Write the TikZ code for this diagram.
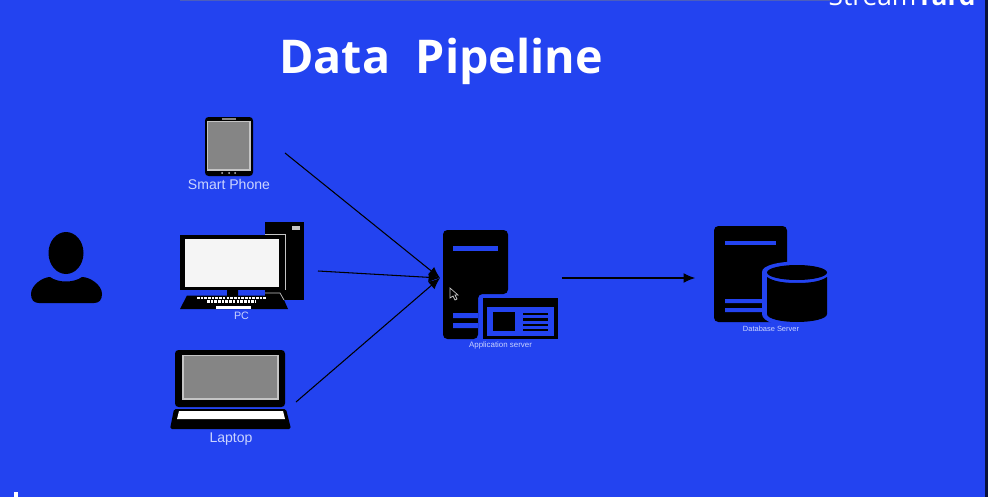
\documentclass[tikz,border=0pt]{standalone}
\usepackage{fontspec}
\usepackage{xcolor}
\usetikzlibrary{arrows.meta}
\setmainfont{Liberation Sans}
\newfontfamily\titlefont{Open Sans}
\definecolor{slideblue}{HTML}{2343F0}
\definecolor{screengrey}{HTML}{858585}
\definecolor{rimgrey}{HTML}{C4C4C4}
\definecolor{labelblue}{HTML}{CBD4FF}

\begin{document}
\begin{tikzpicture}[
  x=0.02cm, y=-0.02cm,
  hitBox/.style ={rectangle, inner sep=0pt, outer sep=0pt},
  link/.style   ={black, line width=0.6pt, -{Latex[length=6.5pt,width=5.6pt]}},
  iconText/.style={text=labelblue, inner sep=0pt},
  dark/.style   ={fill=black, draw=none},
  cut/.style    ={fill=slideblue, draw=none},
  screen/.style ={fill=screengrey, draw=rimgrey, line width=0.6pt},
]
\useasboundingbox (0,0) rectangle (988,497);
\fill[slideblue] (0,0) rectangle (988,497);
\fill[black!75!slideblue] (985,0) rectangle (988,497);
\fill[slideblue!55!gray] (180,0) rectangle (830,1);
\fill[white] (14,492) rectangle (18,497);

% watermark, cut by the top edge
\begin{scope}
\clip (0,0) rectangle (988,7);
\node[text=white, inner sep=0pt, anchor=base east, font=\titlefont\fontsize{15}{16}\selectfont] (brand) at (976,6) {Stream\textbf{Yard}};
\end{scope}

\node[text=white, inner sep=0pt, anchor=base, font=\titlefont\bfseries\fontsize{26.5}{30}\selectfont] (title) at (441,73) {Data\hspace{0.55em}Pipeline};

% user
\fill[black] (66,253) ellipse (17.5 and 21);
\fill[black] (31,294) .. controls (31,285) and (43,277) .. (50,277) .. controls (58,283) and (74,283) .. (82,277) .. controls (90,277) and (102,285) .. (102,294) .. controls (102,300) and (99,303) .. (94,303) -- (39,303) .. controls (34,303) and (31,300) .. (31,294) -- cycle;

% smart phone
\fill[dark, rounded corners=2pt] (205,117) rectangle (253,176);
\draw[screen] (207.5,121.5) rectangle (250,170);
\fill[screengrey] (222,118) rectangle (236,120);
\foreach \dx in {222,229,235} \fill[rimgrey] (\dx,173) circle (1);
\node[iconText, font=\fontsize{8}{9}\selectfont] (phoneText) at (229,184.5) {Smart Phone};

% pc
\fill[dark] (265,222) rectangle (304,300);
\fill[rimgrey] (292,225.5) rectangle (300,230);
\fill[dark] (180,235) rectangle (285,289.5);
\draw[rimgrey, line width=0.5pt] (265,234.5) -- (285,234.5) -- (285,290);
\fill[white!96!black] (185,238.5) rectangle (279,287);
\fill[dark] (227,290) rectangle (238,296) (265,290) rectangle (280,296);
\fill[dark] (180,309) -- (187,295.5) -- (282,295.5) -- (288,309) -- cycle;
\draw[rimgrey, line width=0.4pt] (265,293) -- (280,293) -- (284,300);
\foreach \ky/\kx/\kw in {298/197/69, 301.5/207/49} \draw[white, line width=1.3pt, dash pattern=on 1.5pt off 0.6pt] (\kx,\ky) -- ++(\kw,0);
\fill[white] (216,305.5) rectangle (251,309);
\node[iconText, font=\fontsize{6.1}{7}\selectfont] (pcText) at (241.5,315.5) {PC};

% laptop
\fill[dark, rounded corners=2pt] (175,350) rectangle (285,407);
\draw[screen] (183,355.5) rectangle (278,399);
\fill[dark, rounded corners=1pt] (174,409) -- (286,409) -- (291,429) -- (170,429) -- cycle;
\fill[white] (179,411) -- (283,411) -- (285,419) -- (177,419) -- cycle;
\node[iconText, font=\fontsize{8}{9}\selectfont] (laptopText) at (231,439) {Laptop};

% application server
\fill[dark, rounded corners=2.5pt] (443,339) -- (443,230) -- (508,230) -- (508,294) -- (478,294) -- (478,339) -- cycle;
\fill[cut] (453,246) rectangle (498,251);
\fill[cut] (453,313) rectangle (478,318) (453,323) rectangle (478,328);
\fill[dark] (483,298) rectangle (558,339);
\fill[cut] (487,307) rectangle (554,336);
\fill[dark] (493,312) rectangle (515,331);
\foreach \ly in {312.5,318,323.5,328.5} \fill[dark] (523,\ly) rectangle (548,\ly+2.6);
\draw[rimgrey, line width=0.4pt, fill=black] (450,288) -- (450,298) -- (453,296) -- (455,300) -- (457,299) -- (455,295) -- (458,295) -- cycle;
\node[iconText, font=\fontsize{4.5}{5}\selectfont] (appText) at (500.5,345.5) {Application server};

% database server
\fill[dark, rounded corners=2.5pt] (714,322) -- (714,226) -- (787,226) -- (787,322) -- cycle;
\fill[cut] (725,241) rectangle (776,245);
\fill[cut] (725,299) rectangle (765,303) (725,308) rectangle (765,312);
\fill[cut] (762,272) -- (762,314) .. controls (762,322) and (780,327) .. (797,327) .. controls (814,327) and (832,322) .. (832,314) -- (832,272) .. controls (832,265) and (814,261.5) .. (797,261.5) .. controls (780,261.5) and (762,265) .. (762,272) -- cycle;
\fill[dark] (767,277) -- (767,314) .. controls (767,319) and (782,322) .. (797,322) .. controls (812,322) and (827,319) .. (827,314) -- (827,277) .. controls (820,282) and (808,283) .. (797,283) .. controls (786,283) and (774,282) .. (767,277) -- cycle;
\fill[dark] (797,272.5) ellipse (30 and 7.5);
\node[iconText, font=\fontsize{4.25}{5}\selectfont] (dbText) at (771,328.5) {Database Server};

% boxes the connectors run between
\node[hitBox, minimum width=1.6cm, minimum height=1.4cm] (phone) at (245,153) {};
\node[hitBox, minimum width=2.76cm, minimum height=1.6cm] (pc) at (249,271) {};
\node[hitBox, minimum width=2.52cm, minimum height=1.6cm] (laptop) at (233,402) {};
\node[hitBox, minimum width=2.44cm, minimum height=2.2cm] (app) at (501,278) {};
\node[hitBox, minimum width=2.7cm, minimum height=2.2cm] (db) at (762.5,278) {};

\draw[link] (phone.east) -- (app.west);
\draw[link] (pc.east) -- (app.west);
\draw[link] (laptop.east) -- (app.west);
\draw[link] (app.east) -- (db.west);
\end{tikzpicture}
\end{document}
